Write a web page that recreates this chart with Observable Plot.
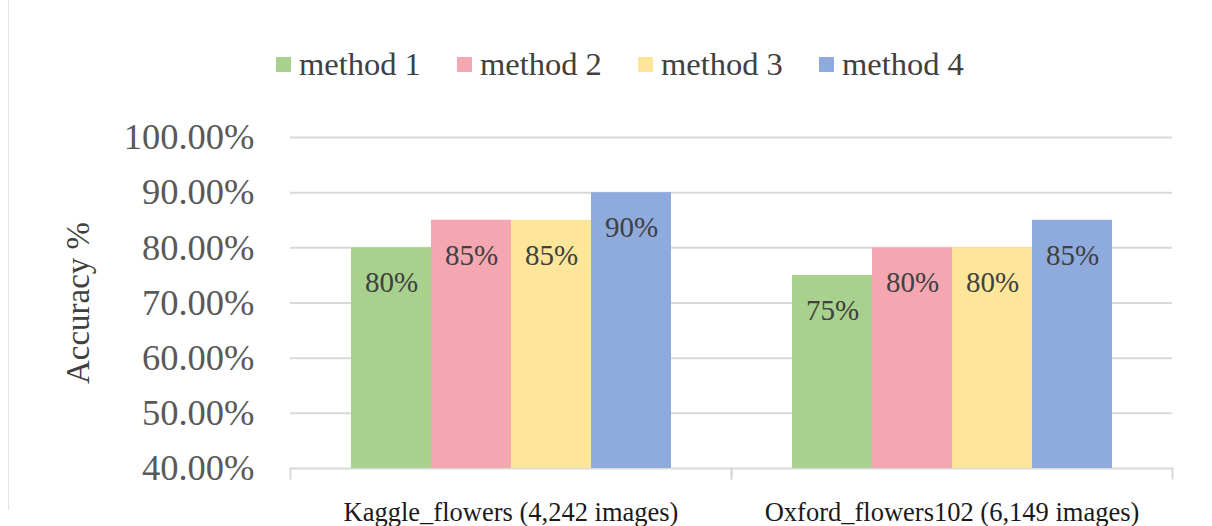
<!DOCTYPE html>
<html>
<head>
<meta charset="utf-8">
<script src="https://cdn.jsdelivr.net/npm/d3@7"></script>
<script src="https://cdn.jsdelivr.net/npm/@observablehq/plot@0.6"></script>
<style>
  html, body { margin: 0; padding: 0; background: #fff; }
  body { width: 1212px; height: 526px; position: relative; overflow: hidden; font-family: "Liberation Serif", "Times New Roman", serif; }
  #edge { position: absolute; left: 8px; top: 0; height: 510px; border-left: 1px solid #e3e3e3; }
  #legend { height: 110px; box-sizing: border-box; padding-top: 44px; padding-left: 276px; display: flex; align-items: flex-start; }
  .item { display: flex; align-items: center; flex: 0 0 181px; min-width: 0; font-size: 32.5px; color: #404040; height: 40px; white-space: nowrap; }
  .sw { width: 15px; height: 15px; margin-right: 8px; flex: 0 0 auto; }
  #chart svg { font-family: "Liberation Serif", "Times New Roman", serif; display: block; overflow: visible; }
  #chart svg [aria-label^="y-axis"] text { font-size: 36.5px; fill: #595959; }
  #chart svg [aria-label="y-axis label"] text, #chart svg [aria-label="y-axis label"] { font-size: 33px; fill: #404040; }
  #chart svg [aria-label^="fx-axis"] text { font-size: 26.5px; fill: #1a1a1a; }
</style>
</head>
<body>
<div id="edge"></div>
<div id="legend"></div>
<div id="chart"></div>
<script>
const datasets = ["Kaggle_flowers (4,242 images)", "Oxford_flowers102 (6,149 images)"];
const methods = ["method 1", "method 2", "method 3", "method 4"];
const kaggleValues = [0.80, 0.85, 0.85, 0.90];
const oxfordValues = [0.75, 0.80, 0.80, 0.85];
const colors = ["#a9d18e", "#f4a7b1", "#fde699", "#8faadc"];
const yTicks = [0.4, 0.5, 0.6, 0.7, 0.8, 0.9, 1.0];

const seriesByDataset = [kaggleValues, oxfordValues];
const data = [];
datasets.forEach((ds, i) => methods.forEach((m, j) => data.push({dataset: ds, method: m, value: seriesByDataset[i][j]})));

// legend
const legend = document.getElementById("legend");
methods.forEach((m, i) => {
  const it = document.createElement("div");
  it.className = "item";
  it.innerHTML = `<span class="sw" style="background:${colors[i]}"></span><span>${m}</span>`;
  legend.appendChild(it);
});

const pct0 = d3.format(".0%");
const pct2 = d3.format(".2%");

const chart = Plot.plot({
  width: 1212,
  height: 416,
  marginTop: 27,
  marginBottom: 58,
  marginLeft: 289,
  marginRight: 40,
  fx: {domain: datasets, padding: 0, label: null, tickSize: 0, tickPadding: 34},
  x: {domain: methods, axis: null, paddingInner: 0, paddingOuter: 0.75},
  y: {domain: [0.4, 1.0], ticks: yTicks, tickFormat: pct2, tickSize: 0, tickPadding: 36,
      label: "Accuracy %", labelArrow: "none", labelAnchor: "center", labelOffset: 225},
  color: {domain: methods, range: colors},
  marks: [
    Plot.ruleY(yTicks, {stroke: "#d9d9d9", strokeWidth: 2}),
    Plot.barY(data, {fx: "dataset", x: "method", y: "value", fill: "method", clip: true}),
    Plot.text(data, {fx: "dataset", x: "method", y: "value", text: d => pct0(d.value), dy: 35, fontSize: 29, fill: "#404040"}),
    Plot.frame({anchor: "left", insetTop: 331, insetBottom: -10, stroke: "#d9d9d9", strokeWidth: 2}),
    Plot.frame({anchor: "right", insetTop: 331, insetBottom: -10, stroke: "#d9d9d9", strokeWidth: 2})
  ]
});
document.getElementById("chart").appendChild(chart);
</script>
</body>
</html>
